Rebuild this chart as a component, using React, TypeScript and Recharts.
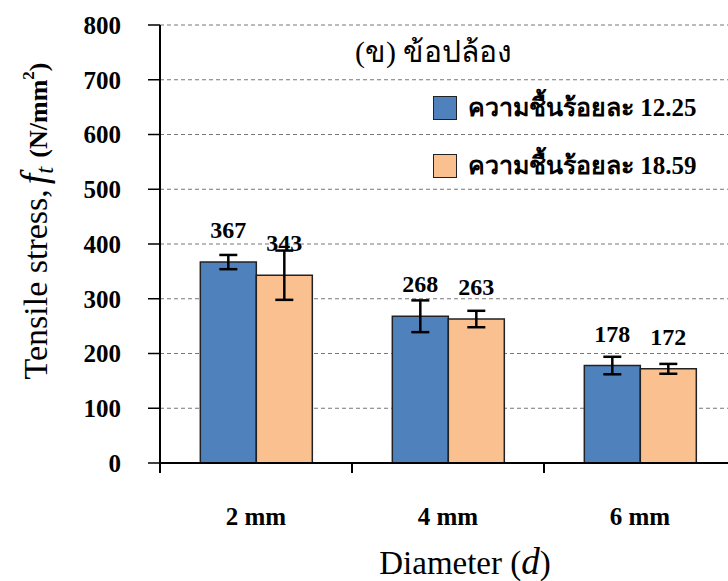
import React from 'react';
import {
  BarChart,
  Bar,
  XAxis,
  YAxis,
  CartesianGrid,
  ErrorBar,
  LabelList,
  Legend
} from 'recharts';

const categories = ['2 mm', '4 mm', '6 mm'];
const moistureLow = [367, 268, 178];
const moistureHigh = [343, 263, 172];
const errLow = [13, 29, 16];
const errHigh = [45, 15, 9];
const yTicks = [0, 100, 200, 300, 400, 500, 600, 700, 800];
const seriesNames = ['ความชื้นร้อยละ 12.25', 'ความชื้นร้อยละ 18.59'];
const COLORS = ['#4F81BD', '#FAC090'];

const SERIF = '"Liberation Serif", "Times New Roman", "DejaVu Serif", serif';
const BAND = 192;

const data = categories.map((name, i) => ({
  name,
  low: moistureLow[i],
  high: moistureHigh[i],
  errLow: errLow[i],
  errHigh: errHigh[i]
}));

const XTick = (props: any) => {
  const { x, y, payload } = props;
  const bx = x - BAND / 2;
  return (
    <g>
      <line x1={bx} x2={bx} y1={y} y2={y + 10} stroke="#000" strokeWidth={2} />
      <text x={x} y={y + 62} textAnchor="middle" fontFamily={SERIF} fontWeight="bold" fontSize={25} fill="#000">
        {payload.value}
      </text>
    </g>
  );
};

const YTitle = () => (
  <text transform="rotate(-90 47 221)" x={47} y={221} textAnchor="middle" fontFamily={SERIF} fill="#000">
    <tspan fontSize={34}>Tensile stress,</tspan>
    <tspan fontSize={38} fontStyle="italic" dx={5}>f</tspan>
    <tspan fontSize={25} fontStyle="italic" dy={6}>t</tspan>
    <tspan fontSize={26} fontWeight="bold" dy={-6} dx={9}>(N/mm</tspan>
    <tspan fontSize={17} fontWeight="bold" dy={-13}>2</tspan>
    <tspan fontSize={26} fontWeight="bold" dy={13}>)</tspan>
  </text>
);

const XTitle = () => (
  <text x={465} y={574} textAnchor="middle" fontFamily={SERIF} fill="#000">
    <tspan fontSize={33}>Diameter (</tspan>
    <tspan fontSize={37} fontStyle="italic">d</tspan>
    <tspan fontSize={33}>)</tspan>
  </text>
);

const LegendBox = () => (
  <div style={{ position: 'relative', width: 370, height: 150, fontFamily: SERIF, color: '#000' }}>
    <div style={{ position: 'absolute', left: 0, top: 0, fontSize: 30, lineHeight: '34px', whiteSpace: 'nowrap' }}>
      (ข) ข้อปล้อง
    </div>
    {seriesNames.map((n, i) => (
      <div
        key={n}
        style={{ position: 'absolute', left: 78, top: 60 + i * 58, height: 25, display: 'flex', alignItems: 'center', whiteSpace: 'nowrap' }}
      >
        <span
          style={{
            display: 'inline-block',
            width: 22,
            height: 22,
            background: COLORS[i],
            border: '1.5px solid #222',
            marginRight: 11
          }}
        />
        <span style={{ fontSize: 25, fontWeight: 'bold', lineHeight: '25px' }}>{n}</span>
      </div>
    ))}
  </div>
);

export default function App() {
  return (
    <div style={{ position: 'absolute', left: 0, top: 0, width: 728, height: 581, overflow: 'hidden', background: '#fff' }}>
      <BarChart
        width={760}
        height={581}
        data={data}
        margin={{ top: 25, right: 24, left: 0, bottom: 0 }}
        barCategoryGap="21%"
        barGap={0}
      >
        <CartesianGrid vertical={false} stroke="#777" strokeDasharray="4 3" />
        <XAxis
          dataKey="name"
          height={118}
          tick={<XTick />}
          tickLine={false}
          tickSize={0}
          tickMargin={0}
          axisLine={{ stroke: '#000', strokeWidth: 2 }}
          label={{ content: () => <XTitle /> }}
        />
        <YAxis
          width={160}
          domain={[0, 800]}
          ticks={yTicks}
          interval={0}
          tickSize={12}
          tickMargin={27}
          axisLine={{ stroke: '#000', strokeWidth: 2 }}
          tickLine={{ stroke: '#000', strokeWidth: 1.5 }}
          tick={{ fontFamily: SERIF, fontWeight: 'bold', fontSize: 25, fill: '#000' }}
          label={{ content: () => <YTitle /> }}
        />
        <Legend
          layout="vertical"
          align="center"
          verticalAlign="middle"
          content={<LegendBox />}
          wrapperStyle={{ left: 355, top: 35, width: 370 }}
        />
        <Bar dataKey="low" name={seriesNames[0]} fill={COLORS[0]} stroke="#222" strokeWidth={1.5} isAnimationActive={false}>
          <ErrorBar dataKey="errLow" width={9} strokeWidth={2.5} stroke="#000" direction="y" isAnimationActive={false} />
          <LabelList dataKey="low" position="top" offset={24} fontFamily={SERIF} fontWeight="bold" fontSize={24} fill="#000" />
        </Bar>
        <Bar dataKey="high" name={seriesNames[1]} fill={COLORS[1]} stroke="#222" strokeWidth={1.5} isAnimationActive={false}>
          <ErrorBar dataKey="errHigh" width={9} strokeWidth={2.5} stroke="#000" direction="y" isAnimationActive={false} />
          <LabelList dataKey="high" position="top" offset={24} fontFamily={SERIF} fontWeight="bold" fontSize={24} fill="#000" />
        </Bar>
      </BarChart>
    </div>
  );
}
